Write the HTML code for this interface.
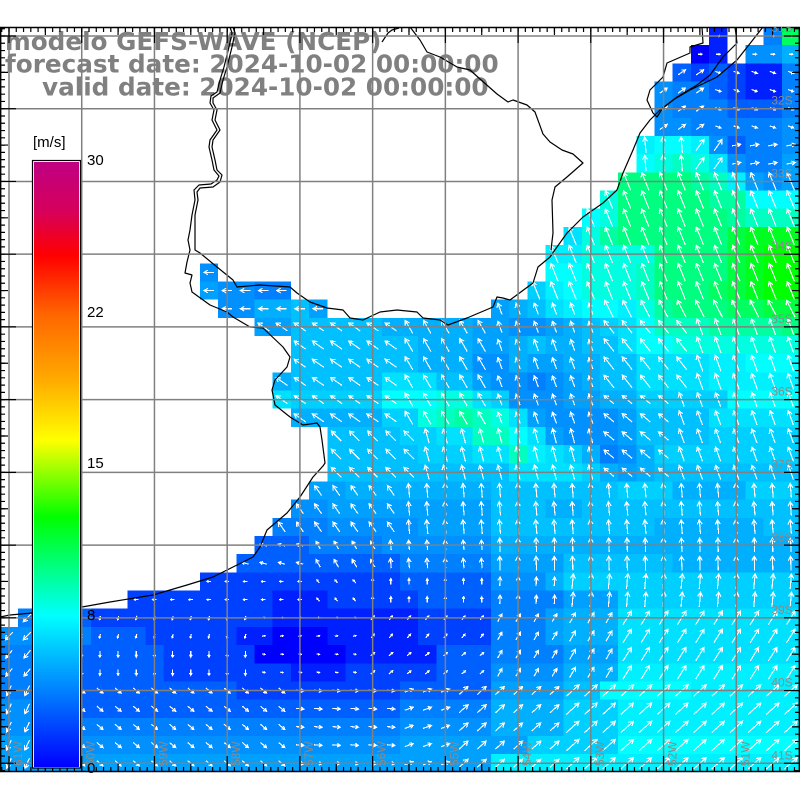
<!DOCTYPE html>
<html>
<head>
<meta charset="utf-8">
<style>
html,body{margin:0;padding:0;background:#fff;}
body{width:800px;height:800px;overflow:hidden;position:relative;}
svg{position:absolute;left:0;top:0;}
marker path{stroke:#fff;stroke-width:1.15;fill:none;shape-rendering:crispEdges;}
.c0{fill:#0000ff}.c1{fill:#0020ff}.c2{fill:#0040ff}.c3{fill:#0060ff}.c4{fill:#0080ff}.c5{fill:#0090ff}.c6{fill:#00a0ff}.c7{fill:#00b0ff}.c8{fill:#00c0ff}.c9{fill:#00d0ff}.ca{fill:#00e0ff}.cb{fill:#00f0ff}.cc{fill:#00ffff}.cd{fill:#00ffe0}.ce{fill:#00ffc0}.cf{fill:#00ffa0}.cg{fill:#00ff80}.ch{fill:#00ff60}.ci{fill:#00ff40}.cj{fill:#00ff20}.ck{fill:#00ff00}
</style>
</head>
<body>
<svg width="800" height="800" viewBox="0 0 800 800" xmlns="http://www.w3.org/2000/svg">
<defs>
  <linearGradient id="cbg" x1="0" y1="0" x2="0" y2="1">
    <stop offset="0" stop-color="#bf0082"/>
    <stop offset="0.08" stop-color="#d6005c"/>
    <stop offset="0.155" stop-color="#ff0000"/>
    <stop offset="0.25" stop-color="#ff6400"/>
    <stop offset="0.36" stop-color="#ffaa00"/>
    <stop offset="0.46" stop-color="#ffff00"/>
    <stop offset="0.587" stop-color="#00ff00"/>
    <stop offset="0.75" stop-color="#00ffff"/>
    <stop offset="1" stop-color="#0000ff"/>
  </linearGradient>
  <clipPath id="mc"><rect x="0" y="27" width="800" height="745"/></clipPath>

  <marker id="m1" markerUnits="userSpaceOnUse" markerWidth="24" markerHeight="24" viewBox="-12 -12 24 24" refX="0" refY="0" orient="0"><path d="M-2 0H2M0.5 -1L2 0L0.5 1"/></marker>
  <marker id="m2" markerUnits="userSpaceOnUse" markerWidth="24" markerHeight="24" viewBox="-12 -12 24 24" refX="0" refY="0" orient="-35"><path d="M-4.5 0H4.5M1 -2L4.5 0L1 2"/></marker>
  <marker id="m3" markerUnits="userSpaceOnUse" markerWidth="24" markerHeight="24" viewBox="-12 -12 24 24" refX="0" refY="0" orient="20"><path d="M-3 0H3M0.7 -1.3L3 0L0.7 1.3"/></marker>
  <marker id="m4" markerUnits="userSpaceOnUse" markerWidth="24" markerHeight="24" viewBox="-12 -12 24 24" refX="0" refY="0" orient="-95"><path d="M-8 0H8M3.7 -2.5L8 0L3.7 2.5"/></marker>
  <marker id="m5" markerUnits="userSpaceOnUse" markerWidth="24" markerHeight="24" viewBox="-12 -12 24 24" refX="0" refY="0" orient="-55"><path d="M-7 0H7M2.7 -2.5L7 0L2.7 2.5"/></marker>
  <marker id="m6" markerUnits="userSpaceOnUse" markerWidth="24" markerHeight="24" viewBox="-12 -12 24 24" refX="0" refY="0" orient="-10"><path d="M-4.5 0H4.5M1 -2L4.5 0L1 2"/></marker>
  <marker id="m7" markerUnits="userSpaceOnUse" markerWidth="24" markerHeight="24" viewBox="-12 -12 24 24" refX="0" refY="0" orient="-112"><path d="M-9.5 0H9.5M5.2 -2.5L9.5 0L5.2 2.5"/></marker>
  <marker id="m7b" markerUnits="userSpaceOnUse" markerWidth="24" markerHeight="24" viewBox="-12 -12 24 24" refX="0" refY="0" orient="-117"><path d="M-9.5 0H9.5M5.2 -2.5L9.5 0L5.2 2.5"/></marker>
  <marker id="m8" markerUnits="userSpaceOnUse" markerWidth="24" markerHeight="24" viewBox="-12 -12 24 24" refX="0" refY="0" orient="-128"><path d="M-8 0H8M3.7 -2.5L8 0L3.7 2.5"/></marker>
  <marker id="m9" markerUnits="userSpaceOnUse" markerWidth="24" markerHeight="24" viewBox="-12 -12 24 24" refX="0" refY="0" orient="-110"><path d="M-8.5 0H8.5M4.2 -2.5L8.5 0L4.2 2.5"/></marker>
  <marker id="m10" markerUnits="userSpaceOnUse" markerWidth="24" markerHeight="24" viewBox="-12 -12 24 24" refX="0" refY="0" orient="-140"><path d="M-6.5 0H6.5M2.2 -2.5L6.5 0L2.2 2.5"/></marker>
  <marker id="m11" markerUnits="userSpaceOnUse" markerWidth="24" markerHeight="24" viewBox="-12 -12 24 24" refX="0" refY="0" orient="-110"><path d="M-7.5 0H7.5M3.2 -2.5L7.5 0L3.2 2.5"/></marker>
  <marker id="m12" markerUnits="userSpaceOnUse" markerWidth="24" markerHeight="24" viewBox="-12 -12 24 24" refX="0" refY="0" orient="180"><path d="M-5 0H5M1.1 -2.25L5 0L1.1 2.25"/></marker>
  <marker id="m13" markerUnits="userSpaceOnUse" markerWidth="24" markerHeight="24" viewBox="-12 -12 24 24" refX="0" refY="0" orient="-110"><path d="M-6 0H6M1.7 -2.5L6 0L1.7 2.5"/></marker>
  <marker id="m14" markerUnits="userSpaceOnUse" markerWidth="24" markerHeight="24" viewBox="-12 -12 24 24" refX="0" refY="0" orient="-145"><path d="M-7 0H7M2.7 -2.5L7 0L2.7 2.5"/></marker>
  <marker id="m15" markerUnits="userSpaceOnUse" markerWidth="24" markerHeight="24" viewBox="-12 -12 24 24" refX="0" refY="0" orient="-120"><path d="M-7.5 0H7.5M3.2 -2.5L7.5 0L3.2 2.5"/></marker>
  <marker id="m16" markerUnits="userSpaceOnUse" markerWidth="24" markerHeight="24" viewBox="-12 -12 24 24" refX="0" refY="0" orient="-135"><path d="M-7 0H7M2.7 -2.5L7 0L2.7 2.5"/></marker>
  <marker id="m17" markerUnits="userSpaceOnUse" markerWidth="24" markerHeight="24" viewBox="-12 -12 24 24" refX="0" refY="0" orient="-105"><path d="M-7.5 0H7.5M3.2 -2.5L7.5 0L3.2 2.5"/></marker>
  <marker id="m18" markerUnits="userSpaceOnUse" markerWidth="24" markerHeight="24" viewBox="-12 -12 24 24" refX="0" refY="0" orient="-125"><path d="M-6 0H6M1.7 -2.5L6 0L1.7 2.5"/></marker>
  <marker id="m19" markerUnits="userSpaceOnUse" markerWidth="24" markerHeight="24" viewBox="-12 -12 24 24" refX="0" refY="0" orient="-95"><path d="M-7 0H7M2.7 -2.5L7 0L2.7 2.5"/></marker>
  <marker id="m20" markerUnits="userSpaceOnUse" markerWidth="24" markerHeight="24" viewBox="-12 -12 24 24" refX="0" refY="0" orient="-165"><path d="M-3.5 0H3.5M0.8 -1.6L3.5 0L0.8 1.6"/></marker>
  <marker id="m21" markerUnits="userSpaceOnUse" markerWidth="24" markerHeight="24" viewBox="-12 -12 24 24" refX="0" refY="0" orient="-120"><path d="M-4.5 0H4.5M1 -2L4.5 0L1 2"/></marker>
  <marker id="m22a" markerUnits="userSpaceOnUse" markerWidth="24" markerHeight="24" viewBox="-12 -12 24 24" refX="0" refY="0" orient="-95"><path d="M-5 0H5M1.1 -2.25L5 0L1.1 2.25"/></marker>
  <marker id="m22b" markerUnits="userSpaceOnUse" markerWidth="24" markerHeight="24" viewBox="-12 -12 24 24" refX="0" refY="0" orient="-92"><path d="M-7 0H7M2.7 -2.5L7 0L2.7 2.5"/></marker>
  <marker id="m23" markerUnits="userSpaceOnUse" markerWidth="24" markerHeight="24" viewBox="-12 -12 24 24" refX="0" refY="0" orient="180"><path d="M-2 0H2M0.5 -1L2 0L0.5 1"/></marker>
  <marker id="m24" markerUnits="userSpaceOnUse" markerWidth="24" markerHeight="24" viewBox="-12 -12 24 24" refX="0" refY="0" orient="-130"><path d="M-2 0H2M0.5 -1L2 0L0.5 1"/></marker>
  <marker id="m25" markerUnits="userSpaceOnUse" markerWidth="24" markerHeight="24" viewBox="-12 -12 24 24" refX="0" refY="0" orient="-90"><path d="M-3 0H3M0.7 -1.3L3 0L0.7 1.3"/></marker>
  <marker id="m26a" markerUnits="userSpaceOnUse" markerWidth="24" markerHeight="24" viewBox="-12 -12 24 24" refX="0" refY="0" orient="-88"><path d="M-4.5 0H4.5M1 -2L4.5 0L1 2"/></marker>
  <marker id="m26b" markerUnits="userSpaceOnUse" markerWidth="24" markerHeight="24" viewBox="-12 -12 24 24" refX="0" refY="0" orient="-85"><path d="M-7.5 0H7.5M3.2 -2.5L7.5 0L3.2 2.5"/></marker>
  <marker id="m27" markerUnits="userSpaceOnUse" markerWidth="24" markerHeight="24" viewBox="-12 -12 24 24" refX="0" refY="0" orient="135"><path d="M-5.5 0H5.5M1.2 -2.5L5.5 0L1.2 2.5"/></marker>
  <marker id="m28" markerUnits="userSpaceOnUse" markerWidth="24" markerHeight="24" viewBox="-12 -12 24 24" refX="0" refY="0" orient="105"><path d="M-2 0H2M0.5 -1L2 0L0.5 1"/></marker>
  <marker id="m29" markerUnits="userSpaceOnUse" markerWidth="24" markerHeight="24" viewBox="-12 -12 24 24" refX="0" refY="0" orient="-10"><path d="M-1.5 0H1.5M0.2 -0.8L1.5 0L0.2 0.8"/></marker>
  <marker id="m30" markerUnits="userSpaceOnUse" markerWidth="24" markerHeight="24" viewBox="-12 -12 24 24" refX="0" refY="0" orient="-50"><path d="M-2.5 0H2.5M0.6 -1.1L2.5 0L0.6 1.1"/></marker>
  <marker id="m31a" markerUnits="userSpaceOnUse" markerWidth="24" markerHeight="24" viewBox="-12 -12 24 24" refX="0" refY="0" orient="-60"><path d="M-4.5 0H4.5M1 -2L4.5 0L1 2"/></marker>
  <marker id="m31b" markerUnits="userSpaceOnUse" markerWidth="24" markerHeight="24" viewBox="-12 -12 24 24" refX="0" refY="0" orient="-60"><path d="M-6 0H6M1.7 -2.5L6 0L1.7 2.5"/></marker>
  <marker id="m31c" markerUnits="userSpaceOnUse" markerWidth="24" markerHeight="24" viewBox="-12 -12 24 24" refX="0" refY="0" orient="-58"><path d="M-8 0H8M3.7 -2.5L8 0L3.7 2.5"/></marker>
  <marker id="m32" markerUnits="userSpaceOnUse" markerWidth="24" markerHeight="24" viewBox="-12 -12 24 24" refX="0" refY="0" orient="130"><path d="M-5 0H5M1.1 -2.25L5 0L1.1 2.25"/></marker>
  <marker id="m33" markerUnits="userSpaceOnUse" markerWidth="24" markerHeight="24" viewBox="-12 -12 24 24" refX="0" refY="0" orient="90"><path d="M-3 0H3M0.7 -1.3L3 0L0.7 1.3"/></marker>
  <marker id="m34" markerUnits="userSpaceOnUse" markerWidth="24" markerHeight="24" viewBox="-12 -12 24 24" refX="0" refY="0" orient="10"><path d="M-1.5 0H1.5M0.2 -0.8L1.5 0L0.2 0.8"/></marker>
  <marker id="m35" markerUnits="userSpaceOnUse" markerWidth="24" markerHeight="24" viewBox="-12 -12 24 24" refX="0" refY="0" orient="-40"><path d="M-2.5 0H2.5M0.6 -1.1L2.5 0L0.6 1.1"/></marker>
  <marker id="m36" markerUnits="userSpaceOnUse" markerWidth="24" markerHeight="24" viewBox="-12 -12 24 24" refX="0" refY="0" orient="115"><path d="M-5.5 0H5.5M1.2 -2.5L5.5 0L1.2 2.5"/></marker>
  <marker id="m37" markerUnits="userSpaceOnUse" markerWidth="24" markerHeight="24" viewBox="-12 -12 24 24" refX="0" refY="0" orient="40"><path d="M-4 0H4M0.9 -1.8L4 0L0.9 1.8"/></marker>
  <marker id="m38" markerUnits="userSpaceOnUse" markerWidth="24" markerHeight="24" viewBox="-12 -12 24 24" refX="0" refY="0" orient="5"><path d="M-4 0H4M0.9 -1.8L4 0L0.9 1.8"/></marker>
  <marker id="m39" markerUnits="userSpaceOnUse" markerWidth="24" markerHeight="24" viewBox="-12 -12 24 24" refX="0" refY="0" orient="-20"><path d="M-4.5 0H4.5M1 -2L4.5 0L1 2"/></marker>
  <marker id="m40a" markerUnits="userSpaceOnUse" markerWidth="24" markerHeight="24" viewBox="-12 -12 24 24" refX="0" refY="0" orient="-42"><path d="M-6 0H6M1.7 -2.5L6 0L1.7 2.5"/></marker>
  <marker id="m40b" markerUnits="userSpaceOnUse" markerWidth="24" markerHeight="24" viewBox="-12 -12 24 24" refX="0" refY="0" orient="-42"><path d="M-8.5 0H8.5M4.2 -2.5L8.5 0L4.2 2.5"/></marker>
</defs>

<rect x="0" y="0" width="800" height="800" fill="#fff"/>

<g clip-path="url(#mc)">
<g transform="translate(0 26.909) scale(18.1818)" shape-rendering="crispEdges">
<rect x="0" y="0" width="40" height="1" class="c1"/><rect x="40" y="0" width="3" height="1" class="c4"/><rect x="43" y="0" width="1" height="1" class="ch"/>
<rect x="0" y="1" width="39" height="1" class="c0"/><rect x="39" y="1" width="1" height="1" class="c1"/><rect x="40" y="1" width="3" height="1" class="c5"/><rect x="43" y="1" width="1" height="1" class="c7"/>
<rect x="0" y="2" width="38" height="1" class="c3"/><rect x="38" y="2" width="1" height="1" class="c2"/><rect x="39" y="2" width="1" height="1" class="c3"/><rect x="40" y="2" width="1" height="1" class="c2"/><rect x="41" y="2" width="2" height="1" class="c1"/><rect x="43" y="2" width="1" height="1" class="c4"/>
<rect x="0" y="3" width="37" height="1" class="c5"/><rect x="37" y="3" width="2" height="1" class="c4"/><rect x="39" y="3" width="1" height="1" class="c3"/><rect x="40" y="3" width="1" height="1" class="c2"/><rect x="41" y="3" width="2" height="1" class="c1"/><rect x="43" y="3" width="1" height="1" class="c4"/>
<rect x="0" y="4" width="37" height="1" class="c5"/><rect x="37" y="4" width="3" height="1" class="c4"/><rect x="40" y="4" width="3" height="1" class="c3"/><rect x="43" y="4" width="1" height="1" class="c4"/>
<rect x="0" y="5" width="38" height="1" class="c5"/><rect x="38" y="5" width="5" height="1" class="c4"/><rect x="43" y="5" width="1" height="1" class="c5"/>
<rect x="0" y="6" width="36" height="1" class="cb"/><rect x="36" y="6" width="2" height="1" class="cc"/><rect x="38" y="6" width="1" height="1" class="cb"/><rect x="39" y="6" width="1" height="1" class="c5"/><rect x="40" y="6" width="1" height="1" class="c3"/><rect x="41" y="6" width="2" height="1" class="c4"/><rect x="43" y="6" width="1" height="1" class="c5"/>
<rect x="0" y="7" width="36" height="1" class="cc"/><rect x="36" y="7" width="1" height="1" class="cd"/><rect x="37" y="7" width="1" height="1" class="ce"/><rect x="38" y="7" width="1" height="1" class="cd"/><rect x="39" y="7" width="1" height="1" class="ca"/><rect x="40" y="7" width="1" height="1" class="c5"/><rect x="41" y="7" width="2" height="1" class="c4"/><rect x="43" y="7" width="1" height="1" class="c6"/>
<rect x="0" y="8" width="38" height="1" class="cg"/><rect x="38" y="8" width="1" height="1" class="cf"/><rect x="39" y="8" width="1" height="1" class="ce"/><rect x="40" y="8" width="1" height="1" class="cb"/><rect x="41" y="8" width="1" height="1" class="c6"/><rect x="42" y="8" width="1" height="1" class="c5"/><rect x="43" y="8" width="1" height="1" class="c6"/>
<rect x="0" y="9" width="34" height="1" class="cd"/><rect x="34" y="9" width="5" height="1" class="cg"/><rect x="39" y="9" width="2" height="1" class="cf"/><rect x="41" y="9" width="3" height="1" class="cc"/>
<rect x="0" y="10" width="33" height="1" class="cc"/><rect x="33" y="10" width="1" height="1" class="cd"/><rect x="34" y="10" width="6" height="1" class="cg"/><rect x="40" y="10" width="1" height="1" class="cf"/><rect x="41" y="10" width="3" height="1" class="ce"/>
<rect x="0" y="11" width="32" height="1" class="ca"/><rect x="32" y="11" width="1" height="1" class="cd"/><rect x="33" y="11" width="1" height="1" class="cf"/><rect x="34" y="11" width="6" height="1" class="cg"/><rect x="40" y="11" width="1" height="1" class="ci"/><rect x="41" y="11" width="3" height="1" class="cj"/>
<rect x="0" y="12" width="32" height="1" class="cb"/><rect x="32" y="12" width="4" height="1" class="cd"/><rect x="36" y="12" width="4" height="1" class="cg"/><rect x="40" y="12" width="1" height="1" class="ci"/><rect x="41" y="12" width="1" height="1" class="cj"/><rect x="42" y="12" width="2" height="1" class="ck"/>
<rect x="0" y="13" width="12" height="1" class="c5"/><rect x="12" y="13" width="20" height="1" class="cc"/><rect x="32" y="13" width="3" height="1" class="cd"/><rect x="35" y="13" width="1" height="1" class="ce"/><rect x="36" y="13" width="4" height="1" class="cg"/><rect x="40" y="13" width="1" height="1" class="ci"/><rect x="41" y="13" width="1" height="1" class="cj"/><rect x="42" y="13" width="2" height="1" class="ck"/>
<rect x="0" y="14" width="12" height="1" class="c6"/><rect x="12" y="14" width="2" height="1" class="c5"/><rect x="14" y="14" width="2" height="1" class="c4"/><rect x="16" y="14" width="14" height="1" class="c9"/><rect x="30" y="14" width="1" height="1" class="cb"/><rect x="31" y="14" width="1" height="1" class="cc"/><rect x="32" y="14" width="3" height="1" class="cd"/><rect x="35" y="14" width="1" height="1" class="ce"/><rect x="36" y="14" width="3" height="1" class="cg"/><rect x="39" y="14" width="1" height="1" class="ch"/><rect x="40" y="14" width="1" height="1" class="ci"/><rect x="41" y="14" width="1" height="1" class="cj"/><rect x="42" y="14" width="2" height="1" class="ck"/>
<rect x="0" y="15" width="14" height="1" class="c5"/><rect x="14" y="15" width="2" height="1" class="c7"/><rect x="16" y="15" width="1" height="1" class="c8"/><rect x="17" y="15" width="11" height="1" class="c6"/><rect x="28" y="15" width="1" height="1" class="c7"/><rect x="29" y="15" width="1" height="1" class="c8"/><rect x="30" y="15" width="1" height="1" class="ca"/><rect x="31" y="15" width="1" height="1" class="cb"/><rect x="32" y="15" width="2" height="1" class="cc"/><rect x="34" y="15" width="1" height="1" class="cb"/><rect x="35" y="15" width="1" height="1" class="cd"/><rect x="36" y="15" width="1" height="1" class="cf"/><rect x="37" y="15" width="3" height="1" class="cg"/><rect x="40" y="15" width="2" height="1" class="ch"/><rect x="42" y="15" width="2" height="1" class="ci"/>
<rect x="0" y="16" width="16" height="1" class="c6"/><rect x="16" y="16" width="5" height="1" class="c8"/><rect x="21" y="16" width="5" height="1" class="c7"/><rect x="26" y="16" width="2" height="1" class="c6"/><rect x="28" y="16" width="2" height="1" class="c5"/><rect x="30" y="16" width="1" height="1" class="c6"/><rect x="31" y="16" width="1" height="1" class="c7"/><rect x="32" y="16" width="1" height="1" class="c8"/><rect x="33" y="16" width="1" height="1" class="c9"/><rect x="34" y="16" width="1" height="1" class="ca"/><rect x="35" y="16" width="1" height="1" class="cc"/><rect x="36" y="16" width="3" height="1" class="ce"/><rect x="39" y="16" width="4" height="1" class="cf"/><rect x="43" y="16" width="1" height="1" class="cg"/>
<rect x="0" y="17" width="23" height="1" class="c8"/><rect x="23" y="17" width="3" height="1" class="c7"/><rect x="26" y="17" width="2" height="1" class="c6"/><rect x="28" y="17" width="1" height="1" class="c7"/><rect x="29" y="17" width="1" height="1" class="c8"/><rect x="30" y="17" width="2" height="1" class="c7"/><rect x="32" y="17" width="2" height="1" class="c8"/><rect x="34" y="17" width="1" height="1" class="ca"/><rect x="35" y="17" width="2" height="1" class="cc"/><rect x="37" y="17" width="7" height="1" class="cd"/>
<rect x="0" y="18" width="23" height="1" class="c8"/><rect x="23" y="18" width="3" height="1" class="c7"/><rect x="26" y="18" width="2" height="1" class="c5"/><rect x="28" y="18" width="1" height="1" class="c7"/><rect x="29" y="18" width="2" height="1" class="c6"/><rect x="31" y="18" width="2" height="1" class="c7"/><rect x="33" y="18" width="2" height="1" class="c8"/><rect x="35" y="18" width="4" height="1" class="ca"/><rect x="39" y="18" width="2" height="1" class="cb"/><rect x="41" y="18" width="3" height="1" class="cc"/>
<rect x="0" y="19" width="16" height="1" class="c7"/><rect x="16" y="19" width="5" height="1" class="c8"/><rect x="21" y="19" width="3" height="1" class="ca"/><rect x="24" y="19" width="2" height="1" class="c8"/><rect x="26" y="19" width="1" height="1" class="c6"/><rect x="27" y="19" width="2" height="1" class="c5"/><rect x="29" y="19" width="1" height="1" class="c4"/><rect x="30" y="19" width="1" height="1" class="c5"/><rect x="31" y="19" width="1" height="1" class="c6"/><rect x="32" y="19" width="1" height="1" class="c7"/><rect x="33" y="19" width="2" height="1" class="c8"/><rect x="35" y="19" width="4" height="1" class="ca"/><rect x="39" y="19" width="5" height="1" class="cb"/>
<rect x="0" y="20" width="16" height="1" class="ca"/><rect x="16" y="20" width="5" height="1" class="c9"/><rect x="21" y="20" width="3" height="1" class="cc"/><rect x="24" y="20" width="2" height="1" class="cd"/><rect x="26" y="20" width="1" height="1" class="ca"/><rect x="27" y="20" width="1" height="1" class="c9"/><rect x="28" y="20" width="3" height="1" class="c5"/><rect x="31" y="20" width="2" height="1" class="c6"/><rect x="33" y="20" width="2" height="1" class="c7"/><rect x="35" y="20" width="5" height="1" class="c9"/><rect x="40" y="20" width="4" height="1" class="cc"/>
<rect x="0" y="21" width="21" height="1" class="c7"/><rect x="21" y="21" width="2" height="1" class="c9"/><rect x="23" y="21" width="1" height="1" class="cd"/><rect x="24" y="21" width="1" height="1" class="ce"/><rect x="25" y="21" width="1" height="1" class="cf"/><rect x="26" y="21" width="1" height="1" class="ce"/><rect x="27" y="21" width="1" height="1" class="cd"/><rect x="28" y="21" width="1" height="1" class="ca"/><rect x="29" y="21" width="1" height="1" class="c6"/><rect x="30" y="21" width="4" height="1" class="c5"/><rect x="34" y="21" width="1" height="1" class="c6"/><rect x="35" y="21" width="4" height="1" class="c8"/><rect x="39" y="21" width="5" height="1" class="ca"/>
<rect x="0" y="22" width="22" height="1" class="c8"/><rect x="22" y="22" width="2" height="1" class="c9"/><rect x="24" y="22" width="2" height="1" class="ca"/><rect x="26" y="22" width="2" height="1" class="ce"/><rect x="28" y="22" width="1" height="1" class="cc"/><rect x="29" y="22" width="1" height="1" class="ca"/><rect x="30" y="22" width="1" height="1" class="c6"/><rect x="31" y="22" width="3" height="1" class="c5"/><rect x="34" y="22" width="1" height="1" class="c6"/><rect x="35" y="22" width="4" height="1" class="c8"/><rect x="39" y="22" width="5" height="1" class="c9"/>
<rect x="0" y="23" width="23" height="1" class="c8"/><rect x="23" y="23" width="3" height="1" class="c9"/><rect x="26" y="23" width="2" height="1" class="ca"/><rect x="28" y="23" width="1" height="1" class="ce"/><rect x="29" y="23" width="1" height="1" class="cb"/><rect x="30" y="23" width="1" height="1" class="ca"/><rect x="31" y="23" width="1" height="1" class="c9"/><rect x="32" y="23" width="1" height="1" class="c7"/><rect x="33" y="23" width="1" height="1" class="c4"/><rect x="34" y="23" width="1" height="1" class="c5"/><rect x="35" y="23" width="1" height="1" class="c7"/><rect x="36" y="23" width="8" height="1" class="c9"/>
<rect x="0" y="24" width="28" height="1" class="c8"/><rect x="28" y="24" width="4" height="1" class="ca"/><rect x="32" y="24" width="1" height="1" class="c9"/><rect x="33" y="24" width="1" height="1" class="c7"/><rect x="34" y="24" width="1" height="1" class="c6"/><rect x="35" y="24" width="1" height="1" class="c7"/><rect x="36" y="24" width="8" height="1" class="c8"/>
<rect x="0" y="25" width="19" height="1" class="c6"/><rect x="19" y="25" width="8" height="1" class="c7"/><rect x="27" y="25" width="7" height="1" class="c8"/><rect x="34" y="25" width="3" height="1" class="c9"/><rect x="37" y="25" width="4" height="1" class="c7"/><rect x="41" y="25" width="3" height="1" class="c9"/>
<rect x="0" y="26" width="18" height="1" class="c5"/><rect x="18" y="26" width="9" height="1" class="c6"/><rect x="27" y="26" width="3" height="1" class="c8"/><rect x="30" y="26" width="2" height="1" class="c7"/><rect x="32" y="26" width="12" height="1" class="c8"/>
<rect x="0" y="27" width="18" height="1" class="c4"/><rect x="18" y="27" width="5" height="1" class="c5"/><rect x="23" y="27" width="4" height="1" class="c6"/><rect x="27" y="27" width="9" height="1" class="c8"/><rect x="36" y="27" width="6" height="1" class="c7"/><rect x="42" y="27" width="2" height="1" class="c8"/>
<rect x="0" y="28" width="17" height="1" class="c3"/><rect x="17" y="28" width="4" height="1" class="c4"/><rect x="21" y="28" width="6" height="1" class="c5"/><rect x="27" y="28" width="17" height="1" class="c7"/>
<rect x="0" y="29" width="22" height="1" class="c3"/><rect x="22" y="29" width="5" height="1" class="c4"/><rect x="27" y="29" width="4" height="1" class="c6"/><rect x="31" y="29" width="6" height="1" class="c8"/><rect x="37" y="29" width="7" height="1" class="c7"/>
<rect x="0" y="30" width="22" height="1" class="c2"/><rect x="22" y="30" width="5" height="1" class="c3"/><rect x="27" y="30" width="3" height="1" class="c5"/><rect x="30" y="30" width="1" height="1" class="c7"/><rect x="31" y="30" width="13" height="1" class="c9"/>
<rect x="0" y="31" width="15" height="1" class="c2"/><rect x="15" y="31" width="3" height="1" class="c1"/><rect x="18" y="31" width="5" height="1" class="c2"/><rect x="23" y="31" width="4" height="1" class="c3"/><rect x="27" y="31" width="4" height="1" class="c4"/><rect x="31" y="31" width="3" height="1" class="c6"/><rect x="34" y="31" width="10" height="1" class="c9"/>
<rect x="0" y="32" width="2" height="1" class="c4"/><rect x="2" y="32" width="3" height="1" class="c3"/><rect x="5" y="32" width="10" height="1" class="c2"/><rect x="15" y="32" width="8" height="1" class="c1"/><rect x="23" y="32" width="4" height="1" class="c2"/><rect x="27" y="32" width="3" height="1" class="c4"/><rect x="30" y="32" width="1" height="1" class="c6"/><rect x="31" y="32" width="3" height="1" class="c7"/><rect x="34" y="32" width="10" height="1" class="ca"/>
<rect x="0" y="33" width="2" height="1" class="c5"/><rect x="2" y="33" width="3" height="1" class="c4"/><rect x="5" y="33" width="3" height="1" class="c3"/><rect x="8" y="33" width="5" height="1" class="c2"/><rect x="13" y="33" width="2" height="1" class="c1"/><rect x="15" y="33" width="3" height="1" class="c0"/><rect x="18" y="33" width="5" height="1" class="c1"/><rect x="23" y="33" width="4" height="1" class="c2"/><rect x="27" y="33" width="3" height="1" class="c4"/><rect x="30" y="33" width="1" height="1" class="c6"/><rect x="31" y="33" width="3" height="1" class="c7"/><rect x="34" y="33" width="10" height="1" class="ca"/>
<rect x="0" y="34" width="2" height="1" class="c4"/><rect x="2" y="34" width="7" height="1" class="c3"/><rect x="9" y="34" width="5" height="1" class="c2"/><rect x="14" y="34" width="5" height="1" class="c0"/><rect x="19" y="34" width="5" height="1" class="c1"/><rect x="24" y="34" width="3" height="1" class="c3"/><rect x="27" y="34" width="4" height="1" class="c4"/><rect x="31" y="34" width="3" height="1" class="c6"/><rect x="34" y="34" width="10" height="1" class="ca"/>
<rect x="0" y="35" width="2" height="1" class="c4"/><rect x="2" y="35" width="7" height="1" class="c3"/><rect x="9" y="35" width="7" height="1" class="c2"/><rect x="16" y="35" width="3" height="1" class="c1"/><rect x="19" y="35" width="5" height="1" class="c2"/><rect x="24" y="35" width="3" height="1" class="c3"/><rect x="27" y="35" width="4" height="1" class="c5"/><rect x="31" y="35" width="3" height="1" class="c7"/><rect x="34" y="35" width="10" height="1" class="cb"/>
<rect x="0" y="36" width="2" height="1" class="c4"/><rect x="2" y="36" width="11" height="1" class="c3"/><rect x="13" y="36" width="9" height="1" class="c2"/><rect x="22" y="36" width="5" height="1" class="c3"/><rect x="27" y="36" width="4" height="1" class="c6"/><rect x="31" y="36" width="2" height="1" class="c8"/><rect x="33" y="36" width="5" height="1" class="cc"/><rect x="38" y="36" width="6" height="1" class="cb"/>
<rect x="0" y="37" width="2" height="1" class="c5"/><rect x="2" y="37" width="20" height="1" class="c3"/><rect x="22" y="37" width="5" height="1" class="c4"/><rect x="27" y="37" width="4" height="1" class="c7"/><rect x="31" y="37" width="3" height="1" class="c9"/><rect x="34" y="37" width="10" height="1" class="cb"/>
<rect x="0" y="38" width="2" height="1" class="c5"/><rect x="2" y="38" width="20" height="1" class="c4"/><rect x="22" y="38" width="5" height="1" class="c5"/><rect x="27" y="38" width="4" height="1" class="c7"/><rect x="31" y="38" width="3" height="1" class="c9"/><rect x="34" y="38" width="10" height="1" class="cb"/>
<rect x="0" y="39" width="2" height="1" class="c6"/><rect x="2" y="39" width="20" height="1" class="c5"/><rect x="22" y="39" width="7" height="1" class="c6"/><rect x="29" y="39" width="5" height="1" class="c9"/><rect x="34" y="39" width="10" height="1" class="cc"/>
<rect x="0" y="40" width="27" height="1" class="c6"/><rect x="27" y="40" width="17" height="1" class="cb"/>
</g>

<!-- arrows (markers at cell centres) -->
<g fill="none" stroke="none">
<path marker-start="url(#m1)" marker-mid="url(#m1)" marker-end="url(#m1)" d="M699.91 36h18.18h18.18h18.18h18.18h18.18M699.91 54.18h18.18h18.18h18.18h18.18h18.18"/>
<path marker-start="url(#m2)" marker-mid="url(#m2)" marker-end="url(#m2)" d="M663.55 72.36h18.18h18.18M663.55 90.55h18.18h18.18M663.55 108.73h18.18h18.18M663.55 126.91h18.18h18.18"/>
<path marker-start="url(#m3)" marker-mid="url(#m3)" marker-end="url(#m3)" d="M718.09 72.36h18.18h18.18h18.18h18.18M718.09 90.55h18.18h18.18h18.18h18.18M718.09 108.73h18.18h18.18h18.18h18.18M718.09 126.91h18.18h18.18h18.18h18.18"/>
<path marker-start="url(#m4)" marker-mid="url(#m4)" marker-end="url(#m4)" d="M645.36 145.09h18.18h18.18M645.36 163.27h18.18h18.18"/>
<path marker-start="url(#m5)" marker-mid="url(#m5)" marker-end="url(#m5)" d="M699.91 145.09h18.18M699.91 163.27h18.18"/>
<path marker-start="url(#m6)" marker-mid="url(#m6)" marker-end="url(#m6)" d="M736.27 145.09h18.18h18.18h18.18M736.27 163.27h18.18h18.18h18.18"/>
<path marker-start="url(#m7)" marker-mid="url(#m7)" marker-end="url(#m7)" d="M536.27 181.45h18.18h18.18h18.18h18.18h18.18h18.18h18.18h18.18h18.18h18.18h18.18h18.18h18.18h18.18M536.27 199.64h18.18h18.18h18.18h18.18h18.18h18.18h18.18h18.18h18.18h18.18h18.18h18.18h18.18h18.18M536.27 217.82h18.18h18.18h18.18h18.18h18.18h18.18h18.18h18.18h18.18h18.18h18.18h18.18h18.18h18.18M536.27 236h18.18h18.18h18.18h18.18h18.18h18.18h18.18h18.18h18.18h18.18h18.18h18.18h18.18h18.18M536.27 254.18h18.18h18.18h18.18h18.18h18.18h18.18h18.18h18.18h18.18h18.18h18.18h18.18h18.18h18.18M536.27 272.36h18.18h18.18h18.18h18.18h18.18h18.18h18.18h18.18h18.18h18.18h18.18h18.18h18.18h18.18M536.27 290.55h18.18h18.18h18.18h18.18h18.18h18.18h18.18h18.18h18.18h18.18h18.18h18.18h18.18h18.18"/>
<path marker-start="url(#m7b)" marker-mid="url(#m7b)" marker-end="url(#m7b)" d="M609 308.73h18.18h18.18h18.18h18.18h18.18h18.18h18.18h18.18h18.18h18.18"/>
<path marker-start="url(#m8)" marker-mid="url(#m8)" marker-end="url(#m8)" d="M609 326.91h18.18h18.18h18.18h18.18M609 345.09h18.18h18.18h18.18h18.18M609 363.27h18.18h18.18h18.18h18.18M609 381.45h18.18h18.18h18.18h18.18"/>
<path marker-start="url(#m9)" marker-mid="url(#m9)" marker-end="url(#m9)" d="M699.91 326.91h18.18h18.18h18.18h18.18h18.18M699.91 345.09h18.18h18.18h18.18h18.18h18.18M699.91 363.27h18.18h18.18h18.18h18.18h18.18M699.91 381.45h18.18h18.18h18.18h18.18h18.18"/>
<path marker-start="url(#m10)" marker-mid="url(#m10)" marker-end="url(#m10)" d="M609 399.64h18.18h18.18h18.18M609 417.82h18.18h18.18h18.18M609 436h18.18h18.18h18.18M609 454.18h18.18h18.18h18.18M609 472.36h18.18h18.18h18.18"/>
<path marker-start="url(#m11)" marker-mid="url(#m11)" marker-end="url(#m11)" d="M681.73 399.64h18.18h18.18h18.18h18.18h18.18h18.18M681.73 417.82h18.18h18.18h18.18h18.18h18.18h18.18M681.73 436h18.18h18.18h18.18h18.18h18.18h18.18M681.73 454.18h18.18h18.18h18.18h18.18h18.18h18.18M681.73 472.36h18.18h18.18h18.18h18.18h18.18h18.18"/>
<path marker-start="url(#m12)" marker-mid="url(#m12)" marker-end="url(#m12)" d="M209 272.36h18.18h18.18h18.18h18.18h18.18h18.18M209 290.55h18.18h18.18h18.18h18.18h18.18h18.18M209 308.73h18.18h18.18h18.18h18.18h18.18h18.18"/>
<path marker-start="url(#m13)" marker-mid="url(#m13)" marker-end="url(#m13)" d="M499.91 308.73h18.18h18.18h18.18h18.18h18.18M499.91 326.91h18.18h18.18h18.18h18.18h18.18M499.91 345.09h18.18h18.18h18.18h18.18h18.18M499.91 363.27h18.18h18.18h18.18h18.18h18.18M499.91 381.45h18.18h18.18h18.18h18.18h18.18M499.91 399.64h18.18h18.18h18.18h18.18h18.18M499.91 417.82h18.18h18.18h18.18h18.18h18.18"/>
<path marker-start="url(#m14)" marker-mid="url(#m14)" marker-end="url(#m14)" d="M263.55 326.91h18.18h18.18h18.18h18.18h18.18h18.18h18.18M263.55 345.09h18.18h18.18h18.18h18.18h18.18h18.18h18.18M263.55 363.27h18.18h18.18h18.18h18.18h18.18h18.18h18.18M263.55 381.45h18.18h18.18h18.18h18.18h18.18h18.18h18.18M263.55 399.64h18.18h18.18h18.18h18.18h18.18h18.18h18.18M263.55 417.82h18.18h18.18h18.18h18.18h18.18h18.18h18.18"/>
<path marker-start="url(#m15)" marker-mid="url(#m15)" marker-end="url(#m15)" d="M409 326.91h18.18h18.18h18.18h18.18M409 345.09h18.18h18.18h18.18h18.18M409 363.27h18.18h18.18h18.18h18.18M409 381.45h18.18h18.18h18.18h18.18M409 399.64h18.18h18.18h18.18h18.18M409 417.82h18.18h18.18h18.18h18.18"/>
<path marker-start="url(#m16)" marker-mid="url(#m16)" marker-end="url(#m16)" d="M336.27 436h18.18h18.18h18.18h18.18M336.27 454.18h18.18h18.18h18.18h18.18M336.27 472.36h18.18h18.18h18.18h18.18"/>
<path marker-start="url(#m17)" marker-mid="url(#m17)" marker-end="url(#m17)" d="M427.18 436h18.18h18.18h18.18h18.18h18.18h18.18h18.18h18.18h18.18M427.18 454.18h18.18h18.18h18.18h18.18h18.18h18.18h18.18h18.18h18.18M427.18 472.36h18.18h18.18h18.18h18.18h18.18h18.18h18.18h18.18h18.18"/>
<path marker-start="url(#m18)" marker-mid="url(#m18)" marker-end="url(#m18)" d="M281.73 490.55h18.18h18.18h18.18h18.18h18.18h18.18M281.73 508.73h18.18h18.18h18.18h18.18h18.18h18.18M281.73 526.91h18.18h18.18h18.18h18.18h18.18h18.18"/>
<path marker-start="url(#m19)" marker-mid="url(#m19)" marker-end="url(#m19)" d="M409 490.55h18.18h18.18h18.18h18.18h18.18h18.18h18.18h18.18h18.18h18.18h18.18h18.18h18.18h18.18h18.18h18.18h18.18h18.18h18.18h18.18h18.18M409 508.73h18.18h18.18h18.18h18.18h18.18h18.18h18.18h18.18h18.18h18.18h18.18h18.18h18.18h18.18h18.18h18.18h18.18h18.18h18.18h18.18h18.18M409 526.91h18.18h18.18h18.18h18.18h18.18h18.18h18.18h18.18h18.18h18.18h18.18h18.18h18.18h18.18h18.18h18.18h18.18h18.18h18.18h18.18h18.18"/>
<path marker-start="url(#m20)" marker-mid="url(#m20)" marker-end="url(#m20)" d="M245.36 545.09h18.18h18.18h18.18M245.36 563.27h18.18h18.18h18.18"/>
<path marker-start="url(#m21)" marker-mid="url(#m21)" marker-end="url(#m21)" d="M318.09 545.09h18.18h18.18h18.18M318.09 563.27h18.18h18.18h18.18"/>
<path marker-start="url(#m22a)" marker-mid="url(#m22a)" marker-end="url(#m22a)" d="M390.82 545.09h18.18h18.18h18.18h18.18h18.18M390.82 563.27h18.18h18.18h18.18h18.18h18.18"/>
<path marker-start="url(#m22b)" marker-mid="url(#m22b)" marker-end="url(#m22b)" d="M499.91 545.09h18.18h18.18h18.18h18.18h18.18h18.18h18.18h18.18h18.18h18.18h18.18h18.18h18.18h18.18h18.18h18.18M499.91 563.27h18.18h18.18h18.18h18.18h18.18h18.18h18.18h18.18h18.18h18.18h18.18h18.18h18.18h18.18h18.18h18.18"/>
<path marker-start="url(#m23)" marker-mid="url(#m23)" marker-end="url(#m23)" d="M136.27 581.45h18.18h18.18h18.18h18.18h18.18h18.18h18.18h18.18h18.18M136.27 599.64h18.18h18.18h18.18h18.18h18.18h18.18h18.18h18.18h18.18"/>
<path marker-start="url(#m24)" marker-mid="url(#m24)" marker-end="url(#m24)" d="M318.09 581.45h18.18h18.18M318.09 599.64h18.18h18.18"/>
<path marker-start="url(#m25)" marker-mid="url(#m25)" marker-end="url(#m25)" d="M372.64 581.45h18.18h18.18h18.18h18.18h18.18h18.18M372.64 599.64h18.18h18.18h18.18h18.18h18.18h18.18"/>
<path marker-start="url(#m26a)" marker-mid="url(#m26a)" marker-end="url(#m26a)" d="M499.91 581.45h18.18h18.18h18.18M499.91 599.64h18.18h18.18h18.18"/>
<path marker-start="url(#m26b)" marker-mid="url(#m26b)" marker-end="url(#m26b)" d="M572.64 581.45h18.18h18.18h18.18h18.18h18.18h18.18h18.18h18.18h18.18h18.18h18.18h18.18M572.64 599.64h18.18h18.18h18.18h18.18h18.18h18.18h18.18h18.18h18.18h18.18h18.18h18.18"/>
<path marker-start="url(#m27)" marker-mid="url(#m27)" marker-end="url(#m27)" d="M9 617.82h18.18M9 636h18.18"/>
<path marker-start="url(#m28)" marker-mid="url(#m28)" marker-end="url(#m28)" d="M81.73 617.82h18.18h18.18h18.18h18.18h18.18h18.18h18.18h18.18h18.18M81.73 636h18.18h18.18h18.18h18.18h18.18h18.18h18.18h18.18h18.18"/>
<path marker-start="url(#m29)" marker-mid="url(#m29)" marker-end="url(#m29)" d="M263.55 617.82h18.18h18.18h18.18h18.18h18.18M263.55 636h18.18h18.18h18.18h18.18h18.18"/>
<path marker-start="url(#m30)" marker-mid="url(#m30)" marker-end="url(#m30)" d="M372.64 617.82h18.18h18.18h18.18h18.18h18.18h18.18M372.64 636h18.18h18.18h18.18h18.18h18.18h18.18"/>
<path marker-start="url(#m31a)" marker-mid="url(#m31a)" marker-end="url(#m31a)" d="M499.91 617.82h18.18h18.18h18.18M499.91 636h18.18h18.18h18.18M499.91 654.18h18.18h18.18h18.18M499.91 672.36h18.18h18.18h18.18"/>
<path marker-start="url(#m31b)" marker-mid="url(#m31b)" marker-end="url(#m31b)" d="M572.64 617.82h18.18h18.18M572.64 636h18.18h18.18M572.64 654.18h18.18h18.18M572.64 672.36h18.18h18.18"/>
<path marker-start="url(#m31c)" marker-mid="url(#m31c)" marker-end="url(#m31c)" d="M627.18 617.82h18.18h18.18h18.18h18.18h18.18h18.18h18.18h18.18h18.18M627.18 636h18.18h18.18h18.18h18.18h18.18h18.18h18.18h18.18h18.18M627.18 654.18h18.18h18.18h18.18h18.18h18.18h18.18h18.18h18.18h18.18M627.18 672.36h18.18h18.18h18.18h18.18h18.18h18.18h18.18h18.18h18.18"/>
<path marker-start="url(#m32)" marker-mid="url(#m32)" marker-end="url(#m32)" d="M9 654.18h18.18M9 672.36h18.18"/>
<path marker-start="url(#m33)" marker-mid="url(#m33)" marker-end="url(#m33)" d="M81.73 654.18h18.18h18.18h18.18h18.18h18.18h18.18h18.18h18.18h18.18M81.73 672.36h18.18h18.18h18.18h18.18h18.18h18.18h18.18h18.18h18.18"/>
<path marker-start="url(#m34)" marker-mid="url(#m34)" marker-end="url(#m34)" d="M263.55 654.18h18.18h18.18h18.18h18.18h18.18M263.55 672.36h18.18h18.18h18.18h18.18h18.18"/>
<path marker-start="url(#m35)" marker-mid="url(#m35)" marker-end="url(#m35)" d="M372.64 654.18h18.18h18.18h18.18h18.18h18.18h18.18M372.64 672.36h18.18h18.18h18.18h18.18h18.18h18.18"/>
<path marker-start="url(#m36)" marker-mid="url(#m36)" marker-end="url(#m36)" d="M9 690.55h18.18M9 708.73h18.18M9 726.91h18.18M9 745.09h18.18M9 763.27h18.18"/>
<path marker-start="url(#m37)" marker-mid="url(#m37)" marker-end="url(#m37)" d="M81.73 690.55h18.18h18.18h18.18h18.18h18.18h18.18h18.18h18.18h18.18h18.18h18.18M81.73 708.73h18.18h18.18h18.18h18.18h18.18h18.18h18.18h18.18h18.18h18.18h18.18M81.73 726.91h18.18h18.18h18.18h18.18h18.18h18.18h18.18h18.18h18.18h18.18h18.18M81.73 745.09h18.18h18.18h18.18h18.18h18.18h18.18h18.18h18.18h18.18h18.18h18.18M81.73 763.27h18.18h18.18h18.18h18.18h18.18h18.18h18.18h18.18h18.18h18.18h18.18"/>
<path marker-start="url(#m38)" marker-mid="url(#m38)" marker-end="url(#m38)" d="M299.91 690.55h18.18h18.18h18.18h18.18h18.18M299.91 708.73h18.18h18.18h18.18h18.18h18.18M299.91 726.91h18.18h18.18h18.18h18.18h18.18M299.91 745.09h18.18h18.18h18.18h18.18h18.18M299.91 763.27h18.18h18.18h18.18h18.18h18.18"/>
<path marker-start="url(#m39)" marker-mid="url(#m39)" marker-end="url(#m39)" d="M409 690.55h18.18h18.18M409 708.73h18.18h18.18M409 726.91h18.18h18.18M409 745.09h18.18h18.18M409 763.27h18.18h18.18"/>
<path marker-start="url(#m40a)" marker-mid="url(#m40a)" marker-end="url(#m40a)" d="M463.55 690.55h18.18h18.18h18.18h18.18h18.18M463.55 708.73h18.18h18.18h18.18h18.18h18.18M463.55 726.91h18.18h18.18h18.18h18.18h18.18M463.55 745.09h18.18h18.18h18.18h18.18h18.18M463.55 763.27h18.18h18.18h18.18h18.18h18.18"/>
<path marker-start="url(#m40b)" marker-mid="url(#m40b)" marker-end="url(#m40b)" d="M572.64 690.55h18.18h18.18h18.18h18.18h18.18h18.18h18.18h18.18h18.18h18.18h18.18h18.18M572.64 708.73h18.18h18.18h18.18h18.18h18.18h18.18h18.18h18.18h18.18h18.18h18.18h18.18M572.64 726.91h18.18h18.18h18.18h18.18h18.18h18.18h18.18h18.18h18.18h18.18h18.18h18.18M572.64 745.09h18.18h18.18h18.18h18.18h18.18h18.18h18.18h18.18h18.18h18.18h18.18h18.18M572.64 763.27h18.18h18.18h18.18h18.18h18.18h18.18h18.18h18.18h18.18h18.18h18.18h18.18"/>
</g>

<!-- land mask -->
<g transform="translate(0 26.909) scale(18.1818)" shape-rendering="crispEdges" fill="#fff">
<rect x="-1" y="-1" width="40" height="2"/><rect x="40" y="-1" width="2" height="2"/>
<rect x="-1" y="1" width="39" height="1"/><rect x="40" y="1" width="1" height="1"/>
<rect x="-1" y="2" width="38" height="1"/>
<rect x="-1" y="3" width="37" height="3"/>
<rect x="-1" y="6" width="36" height="2"/>
<rect x="-1" y="8" width="35" height="1"/>
<rect x="-1" y="9" width="34" height="1"/>
<rect x="-1" y="10" width="33" height="1"/>
<rect x="-1" y="11" width="32" height="1"/>
<rect x="-1" y="12" width="31" height="1"/>
<rect x="-1" y="13" width="12" height="1"/><rect x="12" y="13" width="18" height="1"/>
<rect x="-1" y="14" width="12" height="1"/><rect x="16" y="14" width="13" height="1"/>
<rect x="-1" y="15" width="13" height="1"/><rect x="18" y="15" width="9" height="1"/>
<rect x="-1" y="16" width="15" height="1"/>
<rect x="-1" y="17" width="17" height="2"/>
<rect x="-1" y="19" width="16" height="2"/>
<rect x="-1" y="21" width="17" height="1"/>
<rect x="-1" y="22" width="19" height="3"/>
<rect x="-1" y="25" width="18" height="1"/>
<rect x="-1" y="26" width="17" height="1"/>
<rect x="-1" y="27" width="16" height="1"/>
<rect x="-1" y="28" width="15" height="1"/>
<rect x="-1" y="29" width="14" height="1"/>
<rect x="-1" y="30" width="12" height="1"/>
<rect x="-1" y="31" width="8" height="1"/>
<rect x="-1" y="32" width="2" height="1"/>
</g>
</g>

<!-- title -->
<g font-family="'DejaVu Sans','Liberation Sans',sans-serif" font-weight="bold" font-size="24.7" fill="#808080">
  <text x="5" y="50">modelo GEFS-WAVE (NCEP)</text>
  <text x="5" y="72.5">forecast date: 2024-10-02 00:00:00</text>
  <text x="42" y="95.5">valid date: 2024-10-02 00:00:00</text>
</g>

<!-- coastline -->
<g clip-path="url(#mc)" fill="none" stroke="#000" stroke-width="1.2" stroke-linejoin="round">
  <polyline points="763,27 737,60 717,77 690,90 673,100 660,110 650,120 640,133 633,150 623,173 617,190 603,203 583,217 567,233 557,247 550,257 538,267 533,283 510,300 503,298 497,297 495,302 493,307 467,318 448,325 440,320 423,318 417,312 397,310 380,312 363,320 350,318 343,310 327,308 310,302 297,293 290,287 260,285 237,287 233,280 217,267 200,253 195,250 195,230 195,215 198,200 197,192 200,188 213,187 220,182 222,175 217,170 215,160 212,147 213,140 220,130 215,120 217,110 213,103 213,98 220,93 223,80 227,67 232,47 235,33 233,27"/>
  <polyline points="230,27 232,33 229,47 224,67 220,80 217,92 211,96 210,103 214,110 212,120 217,130 210,140 209,147 212,160 214,170 219,176 217,180 211,184 199,185 194,190 195,200 192,215 190,230 188,240 190,250 187,262 185,273 192,275 190,283 192,292 210,305 227,312 233,317 250,327 263,328 283,347 290,357 287,367 275,380 272,390 275,405 290,417 303,425 317,423 320,427 322,440 325,463 323,466 313,477 300,497 287,513 267,530 260,547 253,557 233,567 213,577 187,585 153,595 110,602 82,607 32,613 10,615 0,617"/>
  <polyline points="410,27 420,40 427,52 440,57 457,67 470,70 480,79 497,94 508,102 513,100 527,105 535,112 543,134 550,142 562,150 573,154 583,163 567,177 555,187 552,200 553,233 551,250"/>
  <polyline points="399,28 392,30 388,33 382,42"/>
  <polyline points="702,27 703,43 690,47 690,53 667,63 663,77 650,90 647,100 653,113 657,117 662,109 677,97 697,85 710,75 723,57 737,43 735,27"/>
</g>

<!-- grid -->
<g stroke="#808080" stroke-width="1.5" fill="none">
  <line x1="9" y1="27" x2="9" y2="772"/>
  <line x1="81.73" y1="27" x2="81.73" y2="772"/>
  <line x1="154.45" y1="27" x2="154.45" y2="772"/>
  <line x1="227.18" y1="27" x2="227.18" y2="772"/>
  <line x1="299.91" y1="27" x2="299.91" y2="772"/>
  <line x1="372.64" y1="27" x2="372.64" y2="772"/>
  <line x1="445.36" y1="27" x2="445.36" y2="772"/>
  <line x1="518.09" y1="27" x2="518.09" y2="772"/>
  <line x1="590.82" y1="27" x2="590.82" y2="772"/>
  <line x1="663.55" y1="27" x2="663.55" y2="772"/>
  <line x1="736.27" y1="27" x2="736.27" y2="772"/>
  <line x1="0" y1="36" x2="800" y2="36"/>
  <line x1="0" y1="108.73" x2="800" y2="108.73"/>
  <line x1="0" y1="181.45" x2="800" y2="181.45"/>
  <line x1="0" y1="254.18" x2="800" y2="254.18"/>
  <line x1="0" y1="326.91" x2="800" y2="326.91"/>
  <line x1="0" y1="399.64" x2="800" y2="399.64"/>
  <line x1="0" y1="472.36" x2="800" y2="472.36"/>
  <line x1="0" y1="545.09" x2="800" y2="545.09"/>
  <line x1="0" y1="617.82" x2="800" y2="617.82"/>
  <line x1="0" y1="690.55" x2="800" y2="690.55"/>
  <line x1="0" y1="763.27" x2="800" y2="763.27"/>
</g>

<!-- ticks -->
<g stroke="#000" fill="none">
  <line x1="1.13" y1="29.5" x2="800" y2="29.5" stroke-width="5" stroke-dasharray="1.2 6.0727"/>
  <line x1="44.76" y1="31" x2="800" y2="31" stroke-width="8" stroke-dasharray="1.2 71.527"/>
  <line x1="8.4" y1="35" x2="800" y2="35" stroke-width="16" stroke-dasharray="1.2 71.527"/>
  <line x1="1.13" y1="769.5" x2="800" y2="769.5" stroke-width="5" stroke-dasharray="1.2 6.0727"/>
  <line x1="44.76" y1="768" x2="800" y2="768" stroke-width="8" stroke-dasharray="1.2 71.527"/>
  <line x1="8.4" y1="764" x2="800" y2="764" stroke-width="16" stroke-dasharray="1.2 71.527"/>
  <line x1="2.5" y1="28.13" x2="2.5" y2="772" stroke-width="5" stroke-dasharray="1.2 6.0727"/>
  <line x1="4" y1="71.76" x2="4" y2="772" stroke-width="8" stroke-dasharray="1.2 71.527"/>
  <line x1="8" y1="35.4" x2="8" y2="772" stroke-width="16" stroke-dasharray="1.2 71.527"/>
  <line x1="797.5" y1="28.13" x2="797.5" y2="772" stroke-width="5" stroke-dasharray="1.2 6.0727"/>
  <line x1="796" y1="71.76" x2="796" y2="772" stroke-width="8" stroke-dasharray="1.2 71.527"/>
  <line x1="792" y1="35.4" x2="792" y2="772" stroke-width="16" stroke-dasharray="1.2 71.527"/>
</g>
<g stroke="#000" stroke-width="1.4" fill="none">
  <line x1="0" y1="27.5" x2="800" y2="27.5"/>
  <line x1="0" y1="771.5" x2="800" y2="771.5"/>
  <line x1="0.7" y1="27" x2="0.7" y2="772"/>
  <line x1="799.3" y1="27" x2="799.3" y2="772"/>
</g>

<!-- latitude labels -->
<g clip-path="url(#mc)" font-family="'Liberation Sans',sans-serif" font-size="12" fill="#8a8a8a" text-anchor="middle">
  <text x="782" y="32">31S</text>
  <text x="782" y="104.7">32S</text>
  <text x="782" y="177.5">33S</text>
  <text x="782" y="250.2">34S</text>
  <text x="782" y="322.9">35S</text>
  <text x="782" y="395.6">36S</text>
  <text x="782" y="468.4">37S</text>
  <text x="782" y="541.1">38S</text>
  <text x="782" y="613.8">39S</text>
  <text x="782" y="686.6">40S</text>
  <text x="782" y="759.3">41S</text>
</g>

<!-- longitude labels -->
<g font-family="'Liberation Sans',sans-serif" font-size="12" fill="#8a8a8a">
  <text transform="translate(22,766) rotate(-90)">61W</text>
  <text transform="translate(94.7,766) rotate(-90)">60W</text>
  <text transform="translate(167.5,766) rotate(-90)">59W</text>
  <text transform="translate(240.2,766) rotate(-90)">58W</text>
  <text transform="translate(312.9,766) rotate(-90)">57W</text>
  <text transform="translate(385.6,766) rotate(-90)">56W</text>
  <text transform="translate(458.4,766) rotate(-90)">55W</text>
  <text transform="translate(531.1,766) rotate(-90)">54W</text>
  <text transform="translate(603.8,766) rotate(-90)">53W</text>
  <text transform="translate(676.6,766) rotate(-90)">52W</text>
  <text transform="translate(749.3,766) rotate(-90)">51W</text>
</g>

<!-- colorbar -->
<rect x="32.5" y="160.5" width="48" height="607.5" fill="#fff" stroke="#000" stroke-width="1.2"/>
<rect x="34" y="162" width="45" height="605" fill="url(#cbg)"/>
<g font-family="'Liberation Sans',sans-serif" font-size="15" fill="#000">
  <text x="33" y="147">[m/s]</text>
  <text x="87" y="165">30</text>
  <text x="87" y="317">22</text>
  <text x="87" y="468">15</text>
  <text x="87" y="620">8</text>
  <text x="87" y="773">0</text>
</g>
</svg>
</body>
</html>
